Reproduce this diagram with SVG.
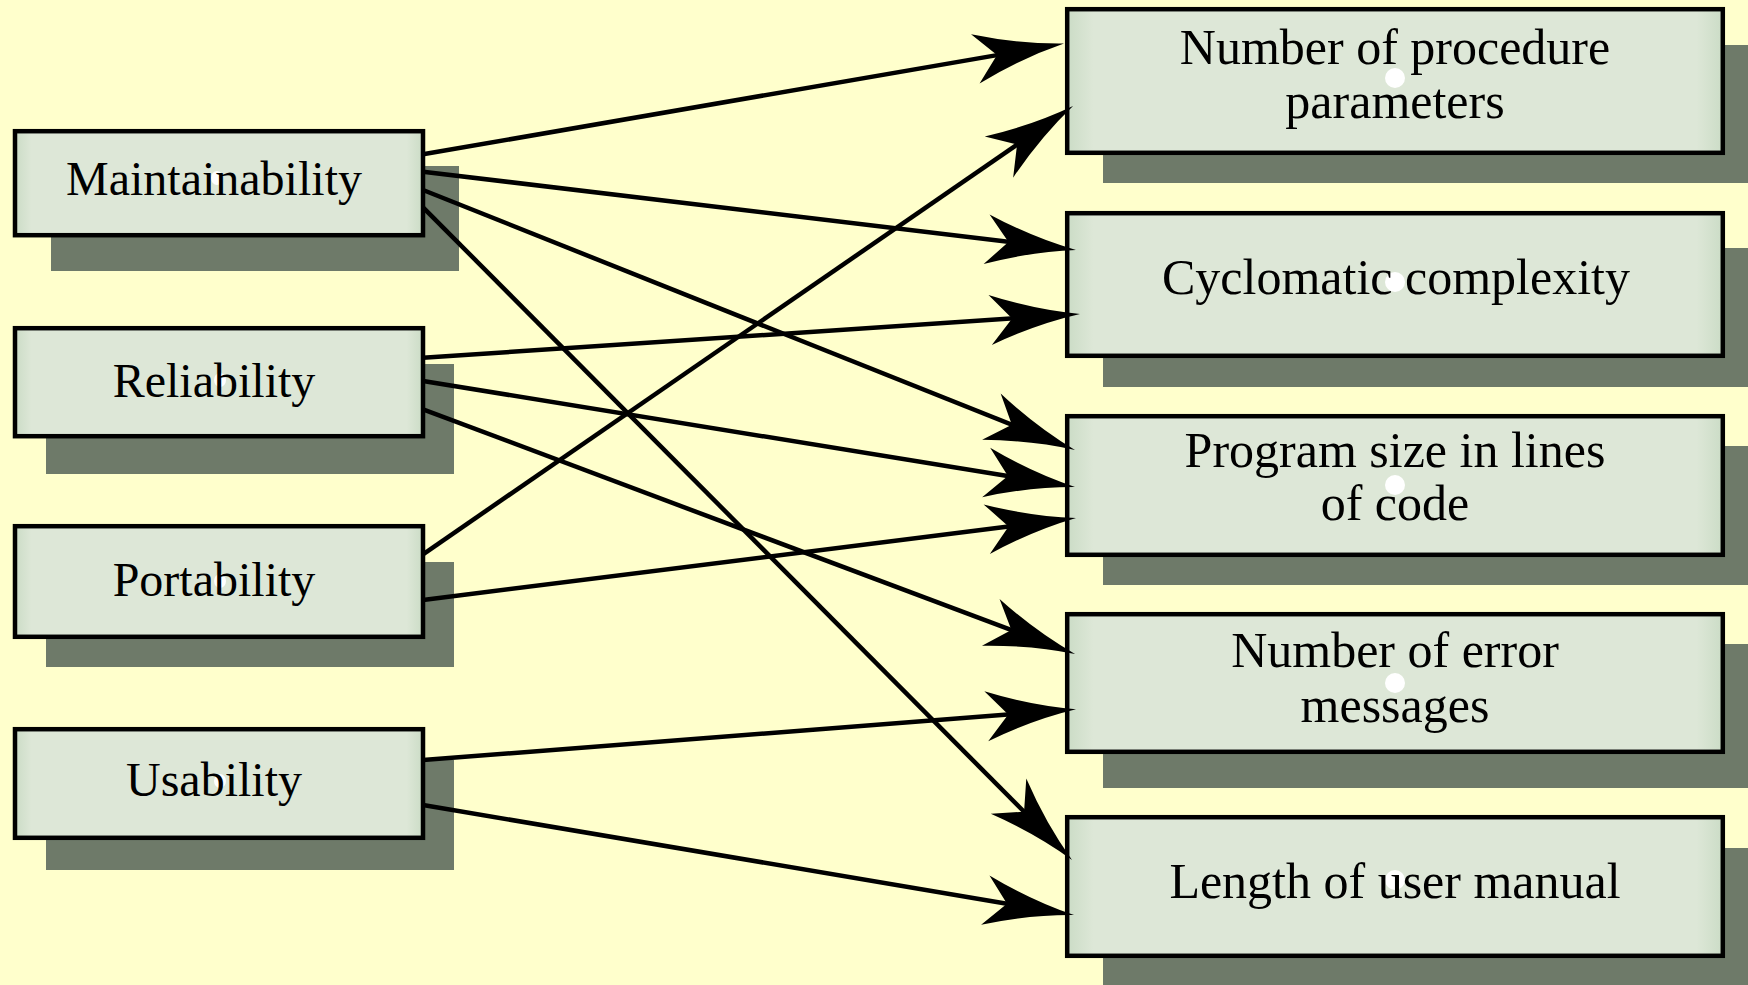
<svg xmlns="http://www.w3.org/2000/svg" width="1748" height="985" viewBox="0 0 1748 985">
<defs>
<style>
.bg{fill:#ffffcc}
.sh{fill:#6e7a69}
.box{fill:url(#bf);stroke:#000;stroke-width:4.5}
.t{font-family:"Liberation Serif","Times New Roman",serif;fill:#000;text-anchor:middle}
.tl{font-size:48px}
.tr{font-size:50px}
.dot{fill:#fff}
.c path{fill:none;stroke:#000;stroke-width:4.5;marker-end:url(#ah)}
</style>
<linearGradient id="bf" x1="0" y1="0" x2="1" y2="0">
<stop offset="0" stop-color="#cbdcc6"/>
<stop offset="0.04" stop-color="#dde7d7"/>
<stop offset="0.96" stop-color="#dde7d7"/>
<stop offset="1" stop-color="#cbdcc6"/>
</linearGradient>
<marker id="ah" markerUnits="userSpaceOnUse" orient="auto" refX="0" refY="0" markerWidth="120" markerHeight="60" overflow="visible">
<path d="M62,0 Q18,-7 -28,-25 L-6,0 L-28,25 Q18,7 62,0 Z" fill="#000"/>
</marker>
</defs>
<rect class="bg" x="0" y="0" width="1748" height="985"/>

<g id="maintainability">
<rect class="sh" x="51" y="166" width="408" height="105"/>
<rect class="box" x="15" y="131.2" width="408" height="104"/>
<ellipse class="dot" cx="217" cy="178" rx="6" ry="7"/>
<text class="t tl" x="214" y="195">Maintainability</text>
</g>
<g id="reliability">
<rect class="sh" x="46" y="364" width="408" height="110"/>
<rect class="box" x="15" y="328.2" width="408" height="108"/>
<ellipse class="dot" cx="220" cy="380" rx="6" ry="7"/>
<text class="t tl" x="214" y="397">Reliability</text>
</g>
<g id="portability">
<rect class="sh" x="46" y="562" width="408" height="105"/>
<rect class="box" x="15" y="526.2" width="408" height="110.6"/>
<ellipse class="dot" cx="220" cy="581" rx="6" ry="7"/>
<text class="t tl" x="214" y="596">Portability</text>
</g>
<g id="usability">
<rect class="sh" x="46" y="760" width="408" height="110"/>
<rect class="box" x="15" y="729.2" width="408" height="108.6"/>
<ellipse class="dot" cx="220" cy="781" rx="6" ry="7"/>
<text class="t tl" x="214" y="796">Usability</text>
</g>

<g id="n-procedure-params">
<rect class="sh" x="1103" y="45" width="660" height="138"/>
<rect class="box" x="1067.2" y="9.2" width="655.6" height="143.6"/>
<circle class="dot" cx="1395" cy="78" r="10"/>
<text class="t tr" x="1395" y="63.5">Number of procedure</text>
<text class="t tr" x="1395" y="118">parameters</text>
</g>
<g id="cyclomatic">
<rect class="sh" x="1103" y="248" width="660" height="139"/>
<rect class="box" x="1067.2" y="213.2" width="655.6" height="142.6"/>
<circle class="dot" cx="1395" cy="282" r="10"/>
<text class="t tr" x="1396" y="294">Cyclomatic complexity</text>
</g>
<g id="program-size">
<rect class="sh" x="1103" y="446" width="660" height="139"/>
<rect class="box" x="1067.2" y="416.2" width="655.6" height="138.6"/>
<circle class="dot" cx="1395" cy="485" r="10"/>
<text class="t tr" x="1395" y="467">Program size in lines</text>
<text class="t tr" x="1395" y="520">of code</text>
</g>
<g id="error-messages">
<rect class="sh" x="1103" y="644" width="660" height="144"/>
<rect class="box" x="1067.2" y="614.2" width="655.6" height="137.6"/>
<circle class="dot" cx="1395" cy="683" r="10"/>
<text class="t tr" x="1395" y="666.5">Number of error</text>
<text class="t tr" x="1395" y="721.5">messages</text>
</g>
<g id="user-manual">
<rect class="sh" x="1103" y="848" width="660" height="150"/>
<rect class="box" x="1067.2" y="817.2" width="655.6" height="138.6"/>
<circle class="dot" cx="1395" cy="880" r="10"/>
<text class="t tr" x="1395" y="898">Length of user manual</text>
</g>

<g id="connectors" class="c">
<path d="M423,154.3 L1002.9,54.1"/>
<path d="M423,171.7 L1014.4,242.6"/>
<path d="M423,190 L1017.4,427"/>
<path d="M423,207.3 L1028.3,816"/>
<path d="M423,357.7 L1018.1,318.1"/>
<path d="M423,381 L1013.8,477"/>
<path d="M423,409.3 L1017,632.2"/>
<path d="M423,554.3 L1022,141.2"/>
<path d="M423,600 L1014.5,525.7"/>
<path d="M423,760 L1014.2,714.1"/>
<path d="M423,805 L1012.9,904.7"/>
</g>
</svg>
